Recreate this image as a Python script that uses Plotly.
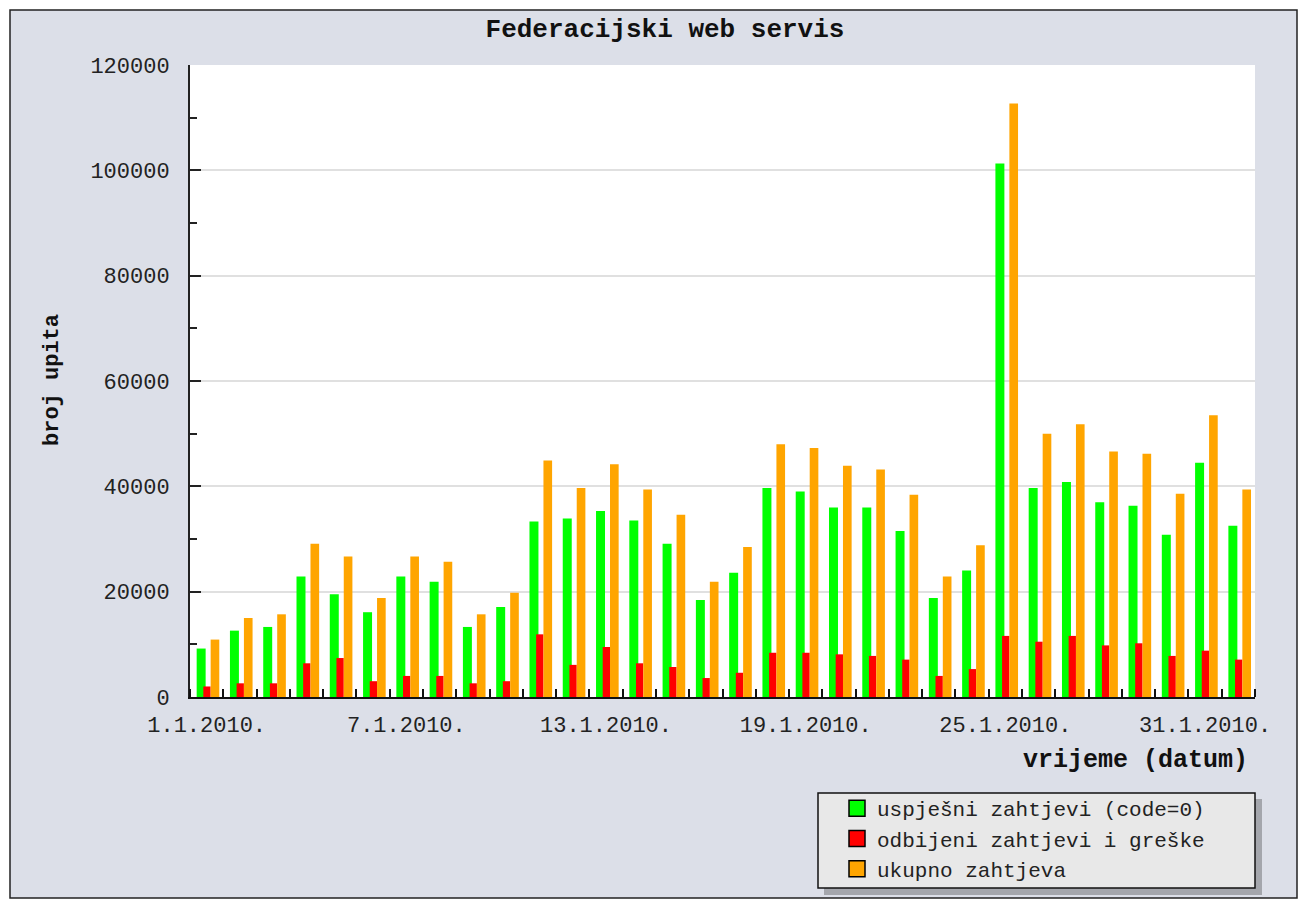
import plotly.graph_objects as go

# ---- data ----
dates = [f"{d}.1.2010." for d in range(1, 32)] + ["1.2.2010."]
uspjesni = [9200, 12600, 13300, 22900, 19500, 16100, 22900, 21900, 13300, 17100,
            33300, 33900, 35300, 33500, 29100, 18400, 23600, 39700, 39000, 36000,
            36000, 31500, 18800, 24000, 101300, 39700, 40800, 37000, 36300, 30800,
            44500, 32500]
odbijeni = [2000, 2600, 2600, 6400, 7400, 3000, 4000, 4000, 2600, 3000,
            11900, 6100, 9500, 6400, 5700, 3600, 4600, 8400, 8400, 8100,
            7800, 7100, 4000, 5300, 11600, 10500, 11600, 9800, 10200, 7800,
            8800, 7100]
ukupno = [10900, 15000, 15700, 29100, 26700, 18800, 26700, 25700, 15700, 19800,
          44900, 39700, 44200, 39400, 34600, 21900, 28500, 48000, 47300, 43900,
          43200, 38400, 22900, 28800, 112700, 50000, 51800, 46600, 46200, 38600,
          53500, 39400]
series_names = ["uspješni zahtjevi (code=0)", "odbijeni zahtjevi i greške", "ukupno zahtjeva"]
series_colors = ["#00ff00", "#ff0000", "#ffa500"]
tick_idx = [0, 6, 12, 18, 24, 30]
y_ticks = [0, 20000, 40000, 60000, 80000, 100000, 120000]

# ---- geometry helpers (plot area in pixels) ----
W, H = 1300, 903
L, R, T, B = 190, 1255, 65, 697

def px_x(p):
    return (p - L) / (R - L)

def px_y(p):
    return (B - p) / (B - T)

xs = list(range(len(dates)))
FONT = "Liberation Mono, DejaVu Sans Mono, monospace"
BG = "#dcdfe8"

fig = go.Figure()
offsets = [-0.30, -0.10, 0.12]
widths = [0.27, 0.22, 0.26]
for vals, name, col, off, w in zip([uspjesni, odbijeni, ukupno], series_names,
                                   series_colors, offsets, widths):
    fig.add_trace(go.Bar(x=xs, y=vals, name=name, marker_color=col,
                         marker_line_width=0, offset=off, width=w,
                         legendgroup=name, showlegend=False))
# legend swatches
for name, col in zip(series_names, series_colors):
    fig.add_trace(go.Scatter(x=[None], y=[None], mode="markers", name=name,
                             legendgroup=name,
                             marker=dict(symbol="square", size=16, color=col,
                                         line=dict(color="black", width=1.5))))

def rect(x0, y0, x1, y1, **kw):
    d = dict(type="rect", xref="paper", yref="paper", x0=px_x(x0), x1=px_x(x1),
             y0=px_y(y1), y1=px_y(y0), layer="below")
    d.update(kw)
    return d

shapes = [
    # white margin strips outside the frame
    rect(0, 0, W, 10, fillcolor="white", line_width=0),
    rect(0, 898, W, H, fillcolor="white", line_width=0),
    rect(0, 0, 10, H, fillcolor="white", line_width=0),
    rect(1297, 0, W, H, fillcolor="white", line_width=0),
    # frame
    rect(10, 10, 1297, 898, line=dict(color="#222", width=1.5), fillcolor="rgba(0,0,0,0)"),
    # legend shadow and box
    rect(824, 799, 1262, 895, fillcolor="#a4a6ac", line_width=0),
    rect(818, 793, 1255, 888, fillcolor="#e8e8e8", line=dict(color="#111", width=1.5)),
]

fig.update_layout(
    width=W, height=H,
    paper_bgcolor=BG, plot_bgcolor="white",
    margin=dict(l=L, r=W - R, t=T, b=H - B, pad=0),
    barmode="overlay",
    font=dict(family=FONT, size=21, color="#222"),
    title=dict(text="<b>Federacijski web servis</b>", x=665 / W, xanchor="center",
               y=1 - 28 / H, yanchor="middle", font=dict(family=FONT, size=26, color="#111")),
    xaxis=dict(range=[-0.5, len(dates) - 0.5], tickmode="array",
               tickvals=[xs[i] for i in tick_idx], ticktext=[dates[i] for i in tick_idx],
               ticks="", showgrid=False, zeroline=False,
               showline=True, linecolor="#111", linewidth=2,
               ticklabelstandoff=7,
               tickfont=dict(family=FONT, size=22, color="#222"),
               minor=dict(tickvals=[i + 0.5 for i in range(-1, len(dates))], ticks="inside",
                          ticklen=8, tickwidth=2, tickcolor="#111", showgrid=False)),
    yaxis=dict(range=[0, 120000], tickmode="array", tickvals=y_ticks,
               ticktext=[str(v) for v in y_ticks],
               ticks="inside", ticklen=11, tickwidth=2, tickcolor="#222",
               showline=True, linecolor="#222", linewidth=2,
               gridcolor="#e0e0e0", gridwidth=2, zeroline=False,
               ticklabelstandoff=14,
               tickfont=dict(family=FONT, size=22, color="#222"),
               minor=dict(dtick=10000, ticks="inside", ticklen=7, tickwidth=2,
                          tickcolor="#222", showgrid=False)),
    legend=dict(x=px_x(837), y=px_y(788), xanchor="left", yanchor="top",
                bgcolor="rgba(0,0,0,0)", borderwidth=0,
                font=dict(family=FONT, size=21, color="#222"),
                tracegroupgap=0,
                itemclick=False, itemdoubleclick=False),
    shapes=shapes,
    annotations=[
        dict(text="<b>broj upita</b>", xref="paper", yref="paper", x=px_x(52), y=px_y(380),
             xanchor="center", yanchor="middle", textangle=-90, showarrow=False,
             font=dict(family=FONT, size=22, color="#111")),
        dict(text="<b>vrijeme (datum)</b>", xref="paper", yref="paper", x=px_x(1250), y=px_y(760),
             xanchor="right", yanchor="middle", showarrow=False,
             font=dict(family=FONT, size=25, color="#111")),
    ],
)

fig.write_html("out.html", config={"displayModeBar": False},
               post_script="document.body.style.margin='0';document.body.style.overflow='hidden';")
